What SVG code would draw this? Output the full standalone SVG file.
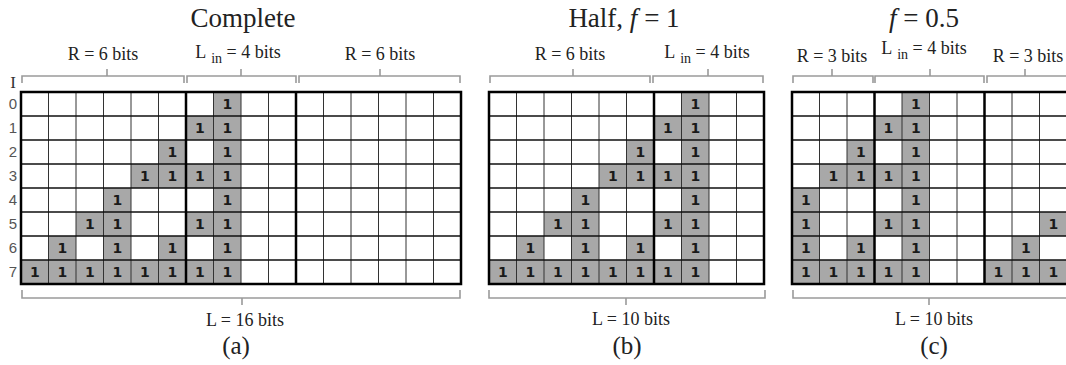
<svg xmlns="http://www.w3.org/2000/svg" width="1066" height="365" viewBox="0 0 1066 365">
<style>
.title{font-family:"Liberation Serif",serif;font-size:27px;fill:#222;text-anchor:middle}
.lbl{font-family:"Liberation Serif",serif;font-size:18px;fill:#222;text-anchor:middle}
.cap{font-family:"Liberation Serif",serif;font-size:25px;fill:#222;text-anchor:middle}
.row{font-family:"Liberation Sans",sans-serif;font-size:15px;fill:#555;text-anchor:middle}
.g{fill:#a8a8a8}
.one{font-family:"DejaVu Sans",sans-serif;font-weight:bold;font-size:14px;fill:#1a1a1a;text-anchor:middle}
.thin{stroke:#333;stroke-width:1;fill:none}
.hor{stroke:#111;stroke-width:1.6;fill:none}
.thick{stroke:#000;stroke-width:2.5;fill:none}
.br{stroke:#9a9a9a;stroke-width:1.6;fill:none}
</style>
<rect width="1066" height="365" fill="#fff"/>

<!-- Titles -->
<text class="title" x="243" y="27">Complete</text>
<text class="title" x="624" y="27">Half, <tspan font-style="italic">f</tspan> = 1</text>
<text class="title" x="924" y="27"><tspan font-style="italic">f</tspan> = 0.5</text>

<!-- Connectors: braces -->
<g id="connectors">
<path class="br" d="M22,83V76H184V83M107,76V69"/>
<path class="br" d="M187,83V76H296V83M241,76V69"/>
<path class="br" d="M299,83V76H460V83M380,76V69"/>
<path class="br" d="M22,290V298H460V290M242,298V305"/>
<path class="br" d="M490,83V76H650V83M573,76V69"/>
<path class="br" d="M653,83V76H763V83M708,76V69"/>
<path class="br" d="M489,290V298H765V290M626,298V305"/>
<path class="br" d="M793,83V76H873V83M832,76V69"/>
<path class="br" d="M875,83V76H984V83M930,76V69"/>
<path class="br" d="M987,83V76H1070M1025,76V69"/>
<path class="br" d="M793,290V298H1070M929,298V305"/>
</g>

<!-- Bracket labels -->
<g id="labels">
<text class="lbl" x="103" y="60">R = 6 bits</text>
<text class="lbl" x="238" y="58">L<tspan font-size="14" dx="5" dy="5">in</tspan><tspan dy="-5"> = 4 bits</tspan></text>
<text class="lbl" x="380" y="60">R = 6 bits</text>
<text class="lbl" x="570" y="60">R = 6 bits</text>
<text class="lbl" x="707" y="58">L<tspan font-size="14" dx="5" dy="5">in</tspan><tspan dy="-5"> = 4 bits</tspan></text>
<text class="lbl" x="832" y="62">R = 3 bits</text>
<text class="lbl" x="924" y="54">L<tspan font-size="14" dx="5" dy="5">in</tspan><tspan dy="-5"> = 4 bits</tspan></text>
<text class="lbl" x="1028" y="62">R = 3 bits</text>
<text class="lbl" x="245" y="326">L = 16 bits</text>
<text class="lbl" x="631" y="325">L = 10 bits</text>
<text class="lbl" x="934" y="325">L = 10 bits</text>
<text class="cap" x="236" y="354">(a)</text>
<text class="cap" x="627" y="354">(b)</text>
<text class="cap" x="934" y="354">(c)</text>
</g>

<!-- Row labels -->
<g id="rowlabels">
<text x="13" y="88" font-family="Liberation Serif, serif" font-size="17" fill="#333" text-anchor="middle">I</text>
<text class="row" x="13" y="109">0</text>
<text class="row" x="13" y="133">1</text>
<text class="row" x="13" y="157">2</text>
<text class="row" x="13" y="181">3</text>
<text class="row" x="13" y="205">4</text>
<text class="row" x="13" y="229">5</text>
<text class="row" x="13" y="253">6</text>
<text class="row" x="13" y="277">7</text>
</g>

<!-- Grid (a) -->
<g id="grid-a">
<rect x="21" y="92" width="440" height="192" fill="#fff"/>
<rect class="g" x="213.5" y="92" width="27.5" height="24"/>
<rect class="g" x="186" y="116" width="55" height="24"/>
<rect class="g" x="158.5" y="140" width="27.5" height="24"/>
<rect class="g" x="213.5" y="140" width="27.5" height="24"/>
<rect class="g" x="131" y="164" width="110" height="24"/>
<rect class="g" x="103.5" y="188" width="27.5" height="24"/>
<rect class="g" x="213.5" y="188" width="27.5" height="24"/>
<rect class="g" x="76" y="212" width="55" height="24"/>
<rect class="g" x="186" y="212" width="55" height="24"/>
<rect class="g" x="48.5" y="236" width="27.5" height="24"/>
<rect class="g" x="103.5" y="236" width="27.5" height="24"/>
<rect class="g" x="158.5" y="236" width="27.5" height="24"/>
<rect class="g" x="213.5" y="236" width="27.5" height="24"/>
<rect class="g" x="21" y="260" width="220" height="24"/>
<text class="one" x="227.25" y="109">1</text>
<text class="one" x="199.75" y="133">1</text><text class="one" x="227.25" y="133">1</text>
<text class="one" x="172.25" y="157">1</text><text class="one" x="227.25" y="157">1</text>
<text class="one" x="144.75" y="181">1</text><text class="one" x="172.25" y="181">1</text><text class="one" x="199.75" y="181">1</text><text class="one" x="227.25" y="181">1</text>
<text class="one" x="117.25" y="205">1</text><text class="one" x="227.25" y="205">1</text>
<text class="one" x="89.75" y="229">1</text><text class="one" x="117.25" y="229">1</text><text class="one" x="199.75" y="229">1</text><text class="one" x="227.25" y="229">1</text>
<text class="one" x="62.25" y="253">1</text><text class="one" x="117.25" y="253">1</text><text class="one" x="172.25" y="253">1</text><text class="one" x="227.25" y="253">1</text>
<text class="one" x="34.75" y="277">1</text><text class="one" x="62.25" y="277">1</text><text class="one" x="89.75" y="277">1</text><text class="one" x="117.25" y="277">1</text><text class="one" x="144.75" y="277">1</text><text class="one" x="172.25" y="277">1</text><text class="one" x="199.75" y="277">1</text><text class="one" x="227.25" y="277">1</text>
<path class="thin" d="M48.5,92V284M76,92V284M103.5,92V284M131,92V284M158.5,92V284M213.5,92V284M241,92V284M268.5,92V284M323.5,92V284M351,92V284M378.5,92V284M406,92V284M433.5,92V284"/>
<path class="hor" d="M21,116H461M21,140H461M21,164H461M21,188H461M21,212H461M21,236H461M21,260H461"/>
<path class="thick" d="M186,92V284M296,92V284"/>
<rect class="thick" x="21" y="92" width="440" height="192"/>
</g>

<!-- Grid (b) -->
<g id="grid-b">
<rect x="489" y="92" width="275" height="192" fill="#fff"/>
<rect class="g" x="681.5" y="92" width="27.5" height="24"/>
<rect class="g" x="654" y="116" width="55" height="24"/>
<rect class="g" x="626.5" y="140" width="27.5" height="24"/>
<rect class="g" x="681.5" y="140" width="27.5" height="24"/>
<rect class="g" x="599" y="164" width="110" height="24"/>
<rect class="g" x="571.5" y="188" width="27.5" height="24"/>
<rect class="g" x="681.5" y="188" width="27.5" height="24"/>
<rect class="g" x="544" y="212" width="55" height="24"/>
<rect class="g" x="654" y="212" width="55" height="24"/>
<rect class="g" x="516.5" y="236" width="27.5" height="24"/>
<rect class="g" x="571.5" y="236" width="27.5" height="24"/>
<rect class="g" x="626.5" y="236" width="27.5" height="24"/>
<rect class="g" x="681.5" y="236" width="27.5" height="24"/>
<rect class="g" x="489" y="260" width="220" height="24"/>
<text class="one" x="695.25" y="109">1</text>
<text class="one" x="667.75" y="133">1</text><text class="one" x="695.25" y="133">1</text>
<text class="one" x="640.25" y="157">1</text><text class="one" x="695.25" y="157">1</text>
<text class="one" x="612.75" y="181">1</text><text class="one" x="640.25" y="181">1</text><text class="one" x="667.75" y="181">1</text><text class="one" x="695.25" y="181">1</text>
<text class="one" x="585.25" y="205">1</text><text class="one" x="695.25" y="205">1</text>
<text class="one" x="557.75" y="229">1</text><text class="one" x="585.25" y="229">1</text><text class="one" x="667.75" y="229">1</text><text class="one" x="695.25" y="229">1</text>
<text class="one" x="530.25" y="253">1</text><text class="one" x="585.25" y="253">1</text><text class="one" x="640.25" y="253">1</text><text class="one" x="695.25" y="253">1</text>
<text class="one" x="502.75" y="277">1</text><text class="one" x="530.25" y="277">1</text><text class="one" x="557.75" y="277">1</text><text class="one" x="585.25" y="277">1</text><text class="one" x="612.75" y="277">1</text><text class="one" x="640.25" y="277">1</text><text class="one" x="667.75" y="277">1</text><text class="one" x="695.25" y="277">1</text>
<path class="thin" d="M516.5,92V284M544,92V284M571.5,92V284M599,92V284M626.5,92V284M681.5,92V284M709,92V284M736.5,92V284"/>
<path class="hor" d="M489,116H764M489,140H764M489,164H764M489,188H764M489,212H764M489,236H764M489,260H764"/>
<path class="thick" d="M654,92V284"/>
<rect class="thick" x="489" y="92" width="275" height="192"/>
</g>

<!-- Grid (c) -->
<g id="grid-c">
<rect x="792" y="92" width="275" height="192" fill="#fff"/>
<rect class="g" x="902" y="92" width="27.5" height="24"/>
<rect class="g" x="874.5" y="116" width="55" height="24"/>
<rect class="g" x="847" y="140" width="27.5" height="24"/>
<rect class="g" x="902" y="140" width="27.5" height="24"/>
<rect class="g" x="819.5" y="164" width="110" height="24"/>
<rect class="g" x="792" y="188" width="27.5" height="24"/>
<rect class="g" x="902" y="188" width="27.5" height="24"/>
<rect class="g" x="792" y="212" width="27.5" height="24"/>
<rect class="g" x="874.5" y="212" width="55" height="24"/>
<rect class="g" x="1039.5" y="212" width="27.5" height="24"/>
<rect class="g" x="792" y="236" width="27.5" height="24"/>
<rect class="g" x="847" y="236" width="27.5" height="24"/>
<rect class="g" x="902" y="236" width="27.5" height="24"/>
<rect class="g" x="1012" y="236" width="27.5" height="24"/>
<rect class="g" x="792" y="260" width="137.5" height="24"/>
<rect class="g" x="984.5" y="260" width="82.5" height="24"/>
<text class="one" x="915.75" y="109">1</text>
<text class="one" x="888.25" y="133">1</text><text class="one" x="915.75" y="133">1</text>
<text class="one" x="860.75" y="157">1</text><text class="one" x="915.75" y="157">1</text>
<text class="one" x="833.25" y="181">1</text><text class="one" x="860.75" y="181">1</text><text class="one" x="888.25" y="181">1</text><text class="one" x="915.75" y="181">1</text>
<text class="one" x="805.75" y="205">1</text><text class="one" x="915.75" y="205">1</text>
<text class="one" x="805.75" y="229">1</text><text class="one" x="888.25" y="229">1</text><text class="one" x="915.75" y="229">1</text><text class="one" x="1053.25" y="229">1</text>
<text class="one" x="805.75" y="253">1</text><text class="one" x="860.75" y="253">1</text><text class="one" x="915.75" y="253">1</text><text class="one" x="1025.75" y="253">1</text>
<text class="one" x="805.75" y="277">1</text><text class="one" x="833.25" y="277">1</text><text class="one" x="860.75" y="277">1</text><text class="one" x="888.25" y="277">1</text><text class="one" x="915.75" y="277">1</text><text class="one" x="998.25" y="277">1</text><text class="one" x="1025.75" y="277">1</text><text class="one" x="1053.25" y="277">1</text>
<path class="thin" d="M819.5,92V284M847,92V284M902,92V284M929.5,92V284M957,92V284M1012,92V284M1039.5,92V284"/>
<path class="hor" d="M792,116H1067M792,140H1067M792,164H1067M792,188H1067M792,212H1067M792,236H1067M792,260H1067"/>
<path class="thick" d="M874.5,92V284M984.5,92V284"/>
<rect class="thick" x="792" y="92" width="276" height="192"/>
</g>
</svg>
